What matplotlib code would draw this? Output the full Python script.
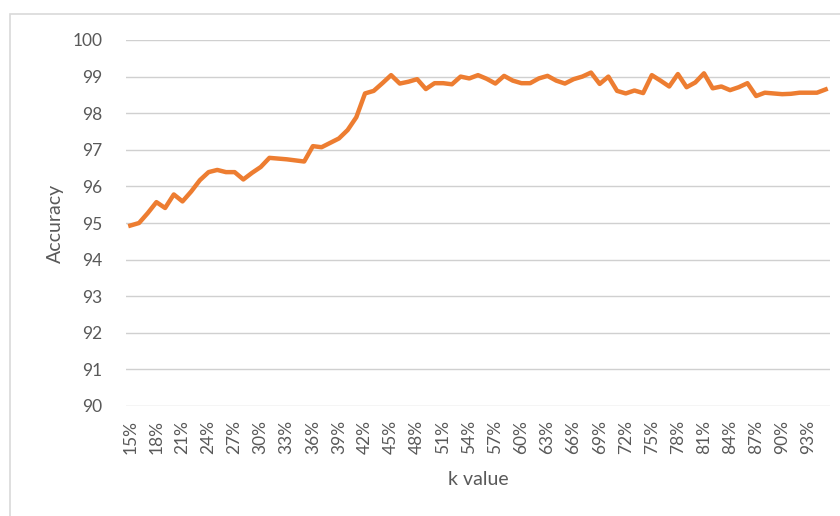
import matplotlib
matplotlib.use('Agg')
import matplotlib.pyplot as plt
from matplotlib.patches import Rectangle

# k values (percent) and accuracy
k_values = list(range(15, 96))
accuracy = [
    94.93, 95.00, 95.27, 95.57, 95.41, 95.78, 95.59, 95.86, 96.17, 96.39,  # 15-24
    96.45, 96.39, 96.39, 96.19, 96.37, 96.53, 96.78, 96.76, 96.74, 96.71,  # 25-34
    96.68, 97.10, 97.07, 97.19, 97.31, 97.54, 97.89, 98.54, 98.61, 98.82,  # 35-44
    99.04, 98.81, 98.86, 98.93, 98.66, 98.82, 98.82, 98.79, 99.00, 98.95,  # 45-54
    99.04, 98.94, 98.81, 99.02, 98.89, 98.82, 98.82, 98.95, 99.02, 98.89,  # 55-64
    98.81, 98.93, 99.00, 99.11, 98.80, 99.00, 98.61, 98.54, 98.62, 98.55,  # 65-74
    99.04, 98.89, 98.73, 99.07, 98.71, 98.84, 99.09, 98.68, 98.73, 98.63,  # 75-84
    98.71, 98.82, 98.47, 98.56, 98.54, 98.52, 98.53, 98.56, 98.56, 98.56,  # 85-94
    98.65,                                                                 # 95
]
y_ticks = list(range(90, 101))

text_color = '#595959'
plt.rcParams['font.family'] = ['Lato', 'DejaVu Sans']

fig = plt.figure(figsize=(8.4, 5.16), dpi=100)
fig.patch.set_facecolor('white')

# chart area border (right/bottom edges fall outside the image)
fig.add_artist(Rectangle((10 / 840, -0.1), 1.2, 1.1 - 14 / 516,
                         transform=fig.transFigure, fill=False,
                         edgecolor='#d9d9d9', linewidth=1.2))

ax = fig.add_axes([126 / 840, 1 - 406 / 516, (830 - 126) / 840, (406 - 40) / 516])
pos = list(range(len(k_values)))
ax.plot(pos, accuracy, color='#ED7D31', linewidth=3.2, solid_joinstyle='round')

ax.set_xlim(-0.5, len(k_values) - 0.5)
ax.set_ylim(90, 100)
ax.set_yticks(y_ticks)
ax.set_yticklabels([str(v) for v in y_ticks], fontsize=12.5, color=text_color)
tick_pos = pos[::3]
ax.set_xticks(tick_pos)
ax.set_xticklabels([f'{k_values[i]}%' for i in tick_pos], rotation=90,
                   fontsize=12.5, color=text_color)
ax.tick_params(length=0, pad=10)
ax.tick_params(axis='y', pad=17)

ax.grid(axis='y', color='#d0d0d0', linewidth=1)
ax.set_axisbelow(True)
for s in ax.spines.values():
    s.set_visible(False)

ax.set_xlabel('k value', fontsize=14, color=text_color, labelpad=12)
ax.set_ylabel('Accuracy', fontsize=14, color=text_color, labelpad=6)

plt.savefig('out.png', dpi=100)
